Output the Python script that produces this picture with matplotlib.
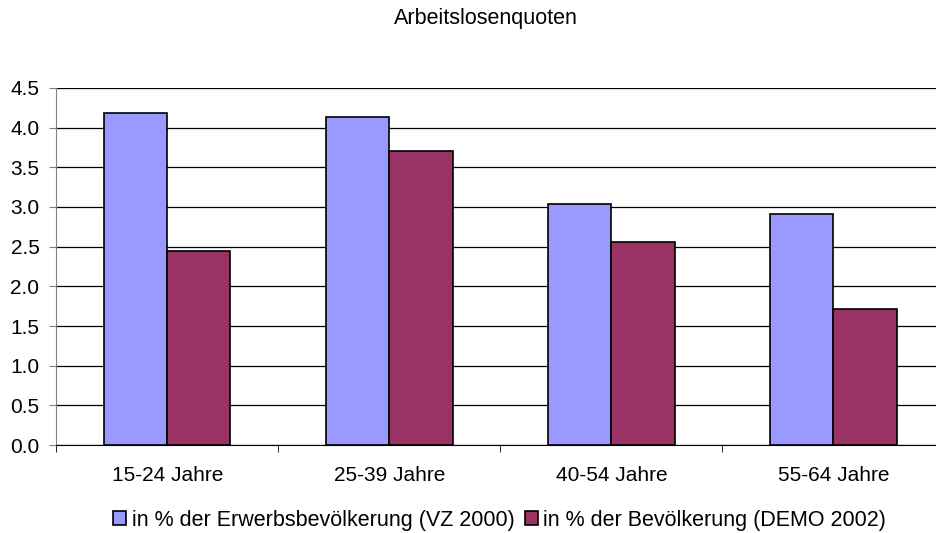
import numpy as np
import matplotlib.pyplot as plt

plt.rcParams['font.family'] = ['Liberation Sans', 'DejaVu Sans']

kategorien = ["15-24 Jahre", "25-39 Jahre", "40-54 Jahre", "55-64 Jahre"]
vz2000 = [4.19, 4.13, 3.04, 2.91]
demo2002 = [2.45, 3.71, 2.56, 1.71]
serien = ["in % der Erwerbsbevölkerung (VZ 2000)", "in % der Bevölkerung (DEMO 2002)"]

fig = plt.figure(figsize=(9.36, 5.33), dpi=100)
ax = fig.add_axes([0.06, 0.165, 0.949, 0.67])

x = np.arange(len(kategorien))
b = 0.285
ax.bar(x - b/2, vz2000, b, color="#9999FF", edgecolor="black", linewidth=1.2, label=serien[0], zorder=3)
ax.bar(x + b/2, demo2002, b, color="#993366", edgecolor="black", linewidth=1.2, label=serien[1], zorder=3)

ax.set_xlim(-0.5, len(kategorien) - 0.5)
ax.set_ylim(0, 4.5)
yt = np.arange(0, 4.51, 0.5)
ax.set_yticks(yt)
ax.set_yticklabels([f"{v:.1f}" for v in yt], fontsize=15)
ax.yaxis.grid(True, color="black", linewidth=0.9)
ax.set_axisbelow(True)

ax.set_xticks(x)
ax.set_xticklabels(kategorien, fontsize=15)
ax.tick_params(axis="x", which="major", length=0, pad=15)
ax.set_xticks(np.arange(-0.5, len(kategorien), 1), minor=True)
ax.tick_params(axis="x", which="minor", length=5, color="black")
ax.tick_params(axis="y", length=5, color="gray", pad=7)

ax.spines["top"].set_visible(False)
ax.spines["right"].set_visible(False)
ax.spines["left"].set_color("gray")
ax.spines["bottom"].set_color("black")

fig.text(0.519, 0.966, "Arbeitslosenquoten", ha="center", va="center", fontsize=15.5)

fig.legend(loc="center", bbox_to_anchor=(0.534, 0.024), ncol=2, frameon=False,
           fontsize=15.5, handlelength=0.6, handleheight=0.6, handletextpad=0.25,
           columnspacing=0.5, borderpad=0.2)

fig.savefig("out.png", dpi=100)
